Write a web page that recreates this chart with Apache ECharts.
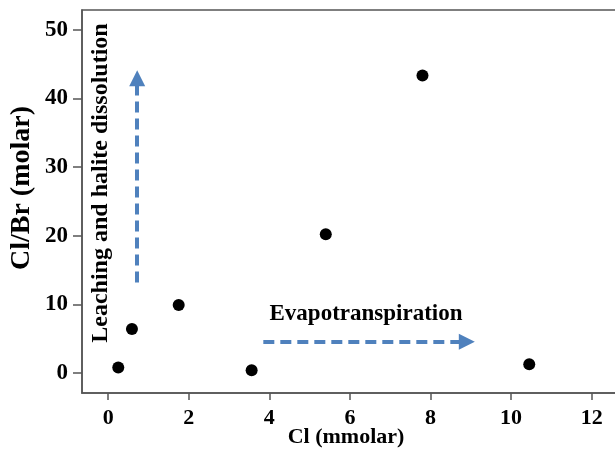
<!DOCTYPE html>
<html>
<head>
<meta charset="utf-8">
<script src="https://cdn.jsdelivr.net/npm/echarts@6/dist/echarts.min.js"></script>
<style>
  html, body { margin: 0; padding: 0; background: #fff; }
  #chart { width: 615px; height: 451px; }
</style>
</head>
<body>
<div id="chart"></div>
<script>
  // 数据 (Cl mmolar, Cl/Br molar)
  var clValues = [0.25, 0.59, 1.75, 3.56, 5.4, 7.8, 10.45];
  var ratioValues = [0.8, 6.4, 9.9, 0.4, 20.2, 43.3, 1.3];
  var xTicks = [0, 2, 4, 6, 8, 10, 12];
  var yTicks = [0, 10, 20, 30, 40, 50];
  // arrows: [x, y] start / end in data units
  var upArrow = [[0.72, 13.2], [0.72, 42.9]];
  var rightArrow = [[3.85, 4.56], [8.9, 4.56]];

  var font = '"Liberation Serif", "Times New Roman", serif';
  var arrowColor = '#4f81bd';
  var axisColor = '#555';

  var myChart = echarts.init(document.getElementById('chart'));

  var arrowLine = function (pts) {
    return [{ coord: pts[0] }, { coord: pts[1] }];
  };

  var option = {
    animation: false,
    backgroundColor: '#fff',
    grid: {
      left: 82,
      top: 10,
      width: 550,
      height: 383,
      outerBoundsMode: 'none',
      containLabel: false,
      show: true,
      borderColor: axisColor,
      borderWidth: 1.5
    },
    xAxis: {
      type: 'value',
      min: -0.65,
      max: 13,
      axisLine: { show: true, onZero: false, lineStyle: { color: axisColor, width: 1.5 } },
      axisTick: { show: true, length: 7, customValues: xTicks, lineStyle: { color: axisColor, width: 1.5 } },
      axisLabel: {
        customValues: xTicks,
        margin: 14,
        color: '#000',
        fontFamily: font,
        fontWeight: 'bold',
        fontSize: 22
      },
      splitLine: { show: false }
    },
    yAxis: {
      type: 'value',
      min: -2.9,
      max: 52.85,
      axisLine: { show: true, onZero: false, lineStyle: { color: axisColor, width: 1.5 } },
      axisTick: { show: true, length: 9, customValues: yTicks, lineStyle: { color: axisColor, width: 1.5 } },
      axisLabel: {
        customValues: yTicks,
        margin: 14,
        color: '#000',
        fontFamily: font,
        fontWeight: 'bold',
        fontSize: 23
      },
      splitLine: { show: false }
    },
    graphic: [
      {
        type: 'text',
        x: 346, y: 437,
        style: { text: 'Cl (mmolar)', font: 'bold 22px ' + font, fill: '#000', align: 'center', verticalAlign: 'middle' }
      },
      {
        type: 'text',
        x: 22, y: 188,
        rotation: Math.PI / 2,
        style: { text: 'Cl/Br (molar)', font: 'bold 28px ' + font, fill: '#000', align: 'center', verticalAlign: 'middle' }
      },
      {
        type: 'text',
        x: 101, y: 183,
        rotation: Math.PI / 2,
        style: { text: 'Leaching and halite dissolution', font: 'bold 24px ' + font, fill: '#000', align: 'center', verticalAlign: 'middle' }
      },
      {
        type: 'text',
        x: 366, y: 314,
        style: { text: 'Evapotranspiration', font: 'bold 23px ' + font, fill: '#000', align: 'center', verticalAlign: 'middle' }
      }
    ],
    series: [
      {
        type: 'scatter',
        symbolSize: 12,
        itemStyle: { color: '#000', opacity: 1 },
        data: clValues.map(function (v, i) { return [v, ratioValues[i]]; }),
        markLine: {
          silent: true,
          symbol: ['none', 'triangle'],
          symbolSize: 16,
          label: { show: false },
          lineStyle: { color: arrowColor, width: 4, type: [11, 6] },
          data: [arrowLine(upArrow), arrowLine(rightArrow)]
        }
      }
    ]
  };

  myChart.setOption(option);
</script>
</body>
</html>
